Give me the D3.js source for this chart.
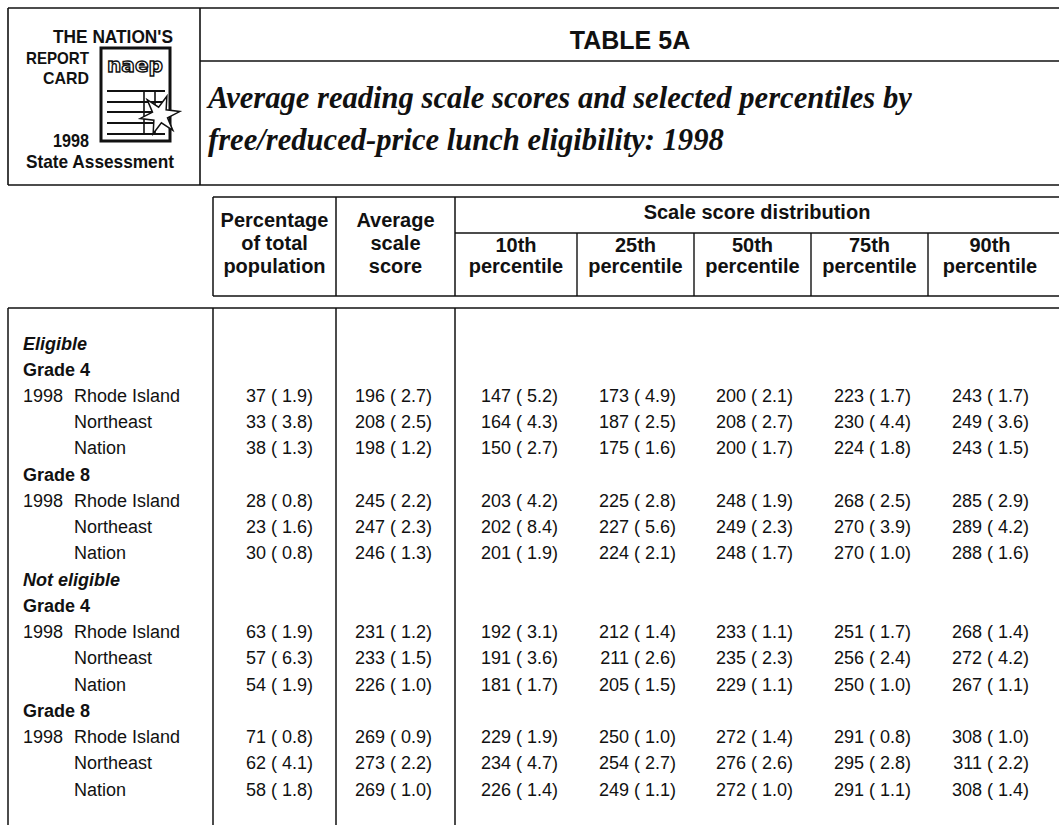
<!DOCTYPE html>
<html>
<head>
<meta charset="utf-8">
<script src="https://cdn.jsdelivr.net/npm/d3@7/dist/d3.min.js"></script>
<style>
  html, body { margin: 0; padding: 0; background: #fff; }
  svg { display: block; }
  text { white-space: pre; }
</style>
</head>
<body>
<svg id="chart" width="1059" height="825"></svg>
<script>
// ---------------- DATA ----------------
const title = "TABLE 5A";
const subtitleLines = [
  "Average reading scale scores and selected percentiles by",
  "free/reduced-price lunch eligibility: 1998"
];
const logoLines = ["THE NATION'S", "REPORT", "CARD", "1998", "State Assessment"];

const groups = ["Eligible", "Not eligible"];
const grades = ["Grade 4", "Grade 8"];
const jurisdictions = ["Rhode Island", "Northeast", "Nation"];
const yearLabel = "1998";

const columnHeaders = [
  ["Percentage", "of total", "population"],
  ["Average", "scale", "score"]
];
const spanHeader = "Scale score distribution";
const percentileHeaders = ["10th", "25th", "50th", "75th", "90th"];
const percentileWord = "percentile";

// rows: Eligible G4 (RI, NE, Nation), Eligible G8, Not eligible G4, Not eligible G8
const pctTotal   = [37, 33, 38, 28, 23, 30, 63, 57, 54, 71, 62, 58];
const pctTotalSE = [1.9, 3.8, 1.3, 0.8, 1.6, 0.8, 1.9, 6.3, 1.9, 0.8, 4.1, 1.8];
const avgScore   = [196, 208, 198, 245, 247, 246, 231, 233, 226, 269, 273, 269];
const avgScoreSE = [2.7, 2.5, 1.2, 2.2, 2.3, 1.3, 1.2, 1.5, 1.0, 0.9, 2.2, 1.0];
const p10   = [147, 164, 150, 203, 202, 201, 192, 191, 181, 229, 234, 226];
const p10SE = [5.2, 4.3, 2.7, 4.2, 8.4, 1.9, 3.1, 3.6, 1.7, 1.9, 4.7, 1.4];
const p25   = [173, 187, 175, 225, 227, 224, 212, 211, 205, 250, 254, 249];
const p25SE = [4.9, 2.5, 1.6, 2.8, 5.6, 2.1, 1.4, 2.6, 1.5, 1.0, 2.7, 1.1];
const p50   = [200, 208, 200, 248, 249, 248, 233, 235, 229, 272, 276, 272];
const p50SE = [2.1, 2.7, 1.7, 1.9, 2.3, 1.7, 1.1, 2.3, 1.1, 1.4, 2.6, 1.0];
const p75   = [223, 230, 224, 268, 270, 270, 251, 256, 250, 291, 295, 291];
const p75SE = [1.7, 4.4, 1.8, 2.5, 3.9, 1.0, 1.7, 2.4, 1.0, 0.8, 2.8, 1.1];
const p90   = [243, 249, 243, 285, 289, 288, 268, 272, 267, 308, 311, 308];
const p90SE = [1.7, 3.6, 1.5, 2.9, 4.2, 1.6, 1.4, 4.2, 1.1, 1.0, 2.2, 1.4];

// ---------------- BUILD ----------------
const columns = [
  {key: "pct", v: pctTotal, se: pctTotalSE},
  {key: "avg", v: avgScore, se: avgScoreSE},
  {key: "p10", v: p10, se: p10SE},
  {key: "p25", v: p25, se: p25SE},
  {key: "p50", v: p50, se: p50SE},
  {key: "p75", v: p75, se: p75SE},
  {key: "p90", v: p90, se: p90SE}
];

const rows = [];
let k = 0;
groups.forEach(g => {
  rows.push({type: "group", label: g});
  grades.forEach(gr => {
    rows.push({type: "grade", label: gr});
    jurisdictions.forEach((j, ji) => {
      rows.push({type: "data", label: j, first: ji === 0, idx: k++});
    });
  });
});

const svg = d3.select("#chart");
const INK = "#111";
const SANS = "'Liberation Sans', Arial, Helvetica, sans-serif";
const NARROW = "'Liberation Sans Narrow', 'Liberation Sans', Arial, sans-serif";
const SERIF = "'Liberation Serif', 'Times New Roman', serif";

// scales
const yRow = d3.scalePoint().domain(d3.range(rows.length)).range([343, 789]);
const xColRight = d3.scaleOrdinal().domain(columns.map(c => c.key))
  .range([313, 432, 558, 676, 793, 911, 1029]);
const xHeaderCenter = d3.scaleOrdinal().domain(["pct", "avg", "p10", "p25", "p50", "p75", "p90"])
  .range([274.5, 395.5, 516, 635.5, 752.5, 869.5, 990]);

function line(x1, y1, x2, y2, w) {
  svg.append("line").attr("x1", x1).attr("y1", y1).attr("x2", x2).attr("y2", y2)
    .attr("stroke", INK).attr("stroke-width", w || 1.5);
}

// ---------- top box ----------
line(8, 8, 1059, 8, 1.6);
line(8, 185, 1059, 185, 1.6);
line(8, 8, 8, 185, 1.6);
line(200, 8, 200, 185, 1.6);
line(200, 61, 1059, 61, 1.4);

// title
svg.append("text").attr("x", 630).attr("y", 49).attr("text-anchor", "middle")
  .attr("font-family", SANS).attr("font-weight", "bold").attr("font-size", 25)
  .attr("fill", INK).text(title);

// subtitle (fit to width of reference)
const subTargets = [704, 510];
const subY = [108, 150];
const subs = subtitleLines.map((s, i) =>
  svg.append("text").attr("x", 208).attr("y", subY[i])
    .attr("font-family", SERIF).attr("font-style", "italic").attr("font-weight", "bold")
    .attr("font-size", 27).attr("fill", INK).text(s));
const natural = subs[0].node().getComputedTextLength();
const fs = 27 * subTargets[0] / natural;
subs.forEach(s => s.attr("font-size", fs));

// logo text
const logoSpec = [
  {x: 173, y: 43, w: 120, f: 19},
  {x: 89, y: 64, w: 63, f: 17},
  {x: 89, y: 84, w: 46, f: 17},
  {x: 89, y: 147, w: 36, f: 19},
  {x: 174, y: 168, w: 148, f: 19}
];
logoLines.forEach((t, i) => {
  const s = logoSpec[i];
  svg.append("text").attr("x", s.x - s.w).attr("y", s.y)
    .attr("font-family", NARROW).attr("font-weight", "bold").attr("font-size", s.f)
    .attr("textLength", s.w).attr("lengthAdjust", "spacingAndGlyphs")
    .attr("fill", INK).text(t);
});

// report card icon
const logo = svg.append("g");
logo.append("rect").attr("x", 101).attr("y", 48).attr("width", 69).attr("height", 93)
  .attr("fill", "#fff").attr("stroke", INK).attr("stroke-width", 3);
logo.append("text").attr("x", 107).attr("y", 72)
  .attr("font-family", "'DejaVu Sans', sans-serif").attr("font-weight", "bold").attr("font-size", 20)
  .attr("textLength", 56).attr("lengthAdjust", "spacingAndGlyphs")
  .attr("fill", "#fff").attr("stroke", INK).attr("stroke-width", 1.4).text("naep");
[91, 102, 112, 123, 134].forEach(y => {
  logo.append("line").attr("x1", 107).attr("x2", 165).attr("y1", y).attr("y2", y)
    .attr("stroke", INK).attr("stroke-width", 1.8);
});
[144, 155].forEach(x => {
  logo.append("line").attr("x1", x).attr("x2", x).attr("y1", 91).attr("y2", 134)
    .attr("stroke", INK).attr("stroke-width", 1.6);
});
// star burst
const cx = 160, cy = 115;
const starPts = d3.range(12).map(i => {
  const a = -Math.PI / 2 + 0.35 + i * Math.PI / 6;
  const r = i % 2 === 0 ? 20 : 8;
  return [cx + r * Math.cos(a), cy + r * Math.sin(a)];
});
logo.append("path").attr("d", d3.line()(starPts) + "Z")
  .attr("fill", "#fff").attr("stroke", INK).attr("stroke-width", 1.5);

// ---------- header box ----------
const hTop = 197, hMid = 233, hBot = 296;
line(213, hTop, 1059, hTop, 1.6);
line(455, hMid, 1059, hMid, 1.4);
line(213, hBot, 1059, hBot, 1.6);
[213, 336, 455].forEach(x => line(x, hTop, x, hBot, 1.5));
[577, 694, 811, 928].forEach(x => line(x, hMid, x, hBot, 1.4));

const hdr = svg.append("g").attr("font-family", SANS).attr("font-weight", "bold")
  .attr("font-size", 20).attr("fill", INK).attr("text-anchor", "middle");
columnHeaders.forEach((lines, ci) => {
  const key = ci === 0 ? "pct" : "avg";
  lines.forEach((t, li) => {
    hdr.append("text").attr("x", xHeaderCenter(key)).attr("y", 227 + li * 23).text(t);
  });
});
hdr.append("text").attr("x", 757).attr("y", 219).text(spanHeader);
percentileHeaders.forEach((t, i) => {
  const key = columns[i + 2].key;
  hdr.append("text").attr("x", xHeaderCenter(key)).attr("y", 252).text(t);
  hdr.append("text").attr("x", xHeaderCenter(key)).attr("y", 273).text(percentileWord);
});

// ---------- body box ----------
const bTop = 308;
line(8, bTop, 1059, bTop, 1.6);
[8, 213, 336, 455].forEach(x => line(x, bTop, x, 825, 1.5));

const body = svg.append("g").attr("font-family", SANS).attr("font-size", 18).attr("fill", INK);
rows.forEach((r, i) => {
  const y = yRow(i) + 6.5;
  if (r.type === "group") {
    body.append("text").attr("x", 23).attr("y", y).attr("font-weight", "bold")
      .attr("font-style", "italic").text(r.label);
  } else if (r.type === "grade") {
    body.append("text").attr("x", 23).attr("y", y).attr("font-weight", "bold").text(r.label);
  } else {
    if (r.first) body.append("text").attr("x", 23).attr("y", y).text(yearLabel);
    body.append("text").attr("x", 74).attr("y", y).text(r.label);
    columns.forEach(c => {
      body.append("text").attr("x", xColRight(c.key)).attr("y", y).attr("text-anchor", "end")
        .text(`${c.v[r.idx]} ( ${c.se[r.idx].toFixed(1)})`);
    });
  }
});
</script>
</body>
</html>
